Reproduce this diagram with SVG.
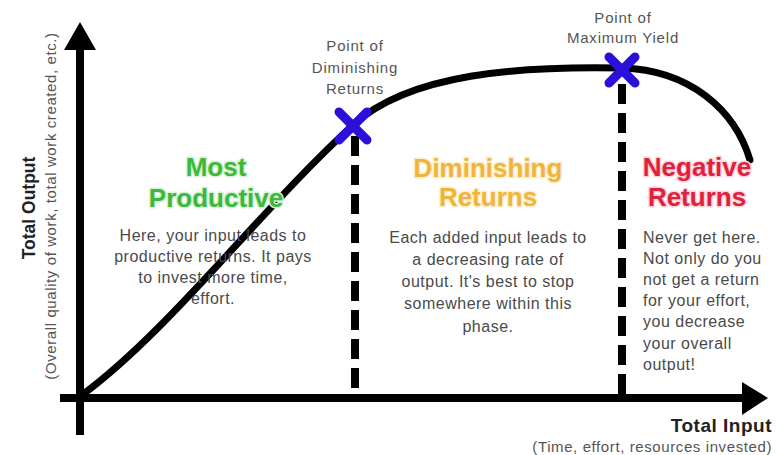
<svg xmlns="http://www.w3.org/2000/svg" width="776" height="455" viewBox="0 0 776 455">
<style>
.ax{stroke:#000;stroke-width:8;fill:none}
.dash{stroke:#000;stroke-width:8;stroke-dasharray:20 9;fill:none}
.curve{stroke:#000;stroke-width:7;fill:none;stroke-linecap:round}
.mark{stroke:#2a10d8;stroke-width:9;stroke-linecap:round}
.t{font-family:"Liberation Sans",Arial,sans-serif}
.pt{font-size:15px;fill:#555;text-anchor:middle;letter-spacing:0.8px}
.hd{font-size:26px;font-weight:bold;text-anchor:middle;stroke-width:3;paint-order:stroke;stroke-linejoin:round}
.bd{font-size:16px;fill:#4a4a4a;letter-spacing:0.5px}
</style>
<rect width="776" height="455" fill="#fff"/>
<g id="axes">
<line class="ax" x1="80" y1="435" x2="80" y2="45"/>
<polygon points="80,22 64,50 96,50" fill="#000"/>
<line class="ax" x1="60" y1="398" x2="748" y2="398"/>
<polygon points="768,398 742,382 742,415" fill="#000"/>
</g>
<g id="connectors">
<path class="curve" d="M82,395 C170,330 260,210 353,125 C410,73 520,66 622,68 C690,70 735,110 750,160"/>
<line class="dash" x1="355" y1="136" x2="355" y2="395"/>
<line class="dash" x1="622" y1="84" x2="622" y2="395"/>
</g>
<g id="point-diminishing">
<line class="mark" x1="339" y1="112" x2="367" y2="140"/>
<line class="mark" x1="367" y1="112" x2="339" y2="140"/>
<text class="t pt" x="355" y="51">Point of</text>
<text class="t pt" x="355" y="73">Diminishing</text>
<text class="t pt" x="355" y="94">Returns</text>
</g>
<g id="point-maximum">
<line class="mark" x1="609" y1="57" x2="635" y2="83"/>
<line class="mark" x1="635" y1="57" x2="609" y2="83"/>
<text class="t pt" x="623" y="23">Point of</text>
<text class="t pt" x="623" y="43">Maximum Yield</text>
</g>
<g id="most-productive">
<text class="t hd" x="216" y="176" fill="#3cb83c" stroke="#d8f2d8">Most</text>
<text class="t hd" x="216" y="207" fill="#3cb83c" stroke="#d8f2d8">Productive</text>
<text class="t bd" text-anchor="middle" x="213" y="241">Here, your input leads to</text>
<text class="t bd" text-anchor="middle" x="213" y="262">productive returns. It pays</text>
<text class="t bd" text-anchor="middle" x="213" y="283">to invest more time,</text>
<text class="t bd" text-anchor="middle" x="213" y="304">effort.</text>
</g>
<g id="diminishing-returns">
<text class="t hd" x="488" y="177" fill="#f0b43c" stroke="#fcefd0">Diminishing</text>
<text class="t hd" x="488" y="206" fill="#f0b43c" stroke="#fcefd0">Returns</text>
<text class="t bd" text-anchor="middle" x="488" y="243">Each added input leads to</text>
<text class="t bd" text-anchor="middle" x="488" y="265">a decreasing rate of</text>
<text class="t bd" text-anchor="middle" x="488" y="287">output. It's best to stop</text>
<text class="t bd" text-anchor="middle" x="488" y="309">somewhere within this</text>
<text class="t bd" text-anchor="middle" x="488" y="332">phase.</text>
</g>
<g id="negative-returns">
<text class="t hd" x="697" y="176" fill="#e0203c" stroke="#fbd6dc">Negative</text>
<text class="t hd" x="697" y="206" fill="#e0203c" stroke="#fbd6dc">Returns</text>
<text class="t bd" x="643" y="243">Never get here.</text>
<text class="t bd" x="643" y="264">Not only do you</text>
<text class="t bd" x="643" y="285">not get a return</text>
<text class="t bd" x="643" y="306">for your effort,</text>
<text class="t bd" x="643" y="327">you decrease</text>
<text class="t bd" x="643" y="349">your overall</text>
<text class="t bd" x="643" y="370">output!</text>
</g>
<g id="y-label">
<text class="t" transform="translate(35,208) rotate(-90)" text-anchor="middle" font-size="17.5" font-weight="bold" fill="#222">Total Output</text>
<text class="t" transform="translate(56,206) rotate(-90)" text-anchor="middle" font-size="15" letter-spacing="0.6" fill="#555">(Overall quality of work, total work created, etc.)</text>
</g>
<g id="x-label">
<text class="t" x="772" y="432" text-anchor="end" font-size="19" font-weight="bold" letter-spacing="0.5" fill="#222">Total Input</text>
<text class="t" x="772" y="452" text-anchor="end" font-size="15" letter-spacing="0.6" fill="#555">(Time, effort, resources invested)</text>
</g>
</svg>
